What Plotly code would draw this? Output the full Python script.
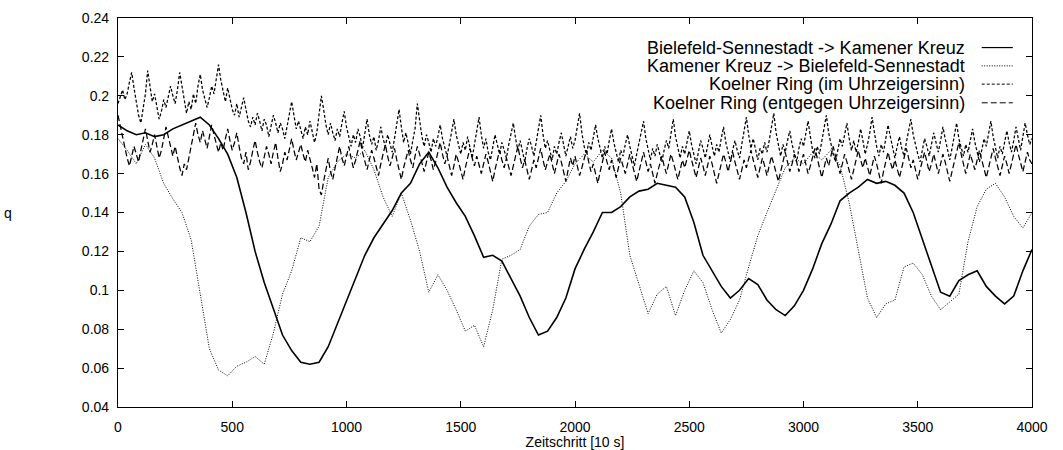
import plotly.graph_objects as go

# ---------------- data ----------------
steps_coarse = list(range(0, 4001, 40))   # x for the two directional series
steps_fine = list(range(0, 4001, 10))     # x for the two ring series

bielefeld_kamener = [
    0.185, 0.182, 0.180, 0.181, 0.179, 0.180, 0.183, 0.185, 0.187, 0.189,
    0.185, 0.178, 0.170, 0.158, 0.140, 0.120, 0.104, 0.091, 0.077, 0.069,
    0.063, 0.062, 0.063, 0.071, 0.083, 0.095, 0.106, 0.118, 0.127, 0.134,
    0.141, 0.150, 0.155, 0.165, 0.171, 0.163, 0.153, 0.145, 0.138, 0.128,
    0.117, 0.118, 0.115, 0.106, 0.097, 0.086, 0.077, 0.079, 0.086, 0.096,
    0.111, 0.121, 0.130, 0.140, 0.140, 0.143, 0.148, 0.151, 0.152, 0.155,
    0.154, 0.153, 0.148, 0.135, 0.118, 0.110, 0.102, 0.096, 0.100, 0.106,
    0.103, 0.095, 0.090, 0.087, 0.092, 0.100, 0.111, 0.124, 0.134, 0.146,
    0.150, 0.153, 0.157, 0.155, 0.156, 0.154, 0.150, 0.140, 0.126, 0.112,
    0.099, 0.097, 0.105, 0.108, 0.110, 0.102, 0.097, 0.093, 0.097, 0.110,
    0.121,
]

kamener_bielefeld = [
    0.178, 0.172, 0.165, 0.175, 0.168, 0.155, 0.147, 0.140, 0.126, 0.097,
    0.070, 0.059, 0.056, 0.061, 0.063, 0.066, 0.062, 0.078, 0.098, 0.110,
    0.127, 0.125, 0.133, 0.158, 0.166, 0.170, 0.168, 0.172, 0.162, 0.148,
    0.138, 0.150, 0.136, 0.120, 0.099, 0.108, 0.100, 0.090, 0.079, 0.082,
    0.071, 0.090, 0.116, 0.118, 0.121, 0.133, 0.139, 0.140, 0.150, 0.156,
    0.165, 0.170, 0.166, 0.172, 0.168, 0.150, 0.118, 0.103, 0.088, 0.098,
    0.102, 0.087, 0.100, 0.110, 0.104, 0.090, 0.078, 0.085, 0.095, 0.112,
    0.128, 0.140, 0.152, 0.163, 0.168, 0.165, 0.171, 0.167, 0.172, 0.164,
    0.145, 0.120, 0.096, 0.086, 0.093, 0.095, 0.112, 0.114, 0.108, 0.097,
    0.090, 0.094, 0.098, 0.125, 0.143, 0.152, 0.155, 0.148, 0.138, 0.132,
    0.140,
]

koeln_uhrzeiger = [
    0.196, 0.199, 0.203, 0.198, 0.201, 0.207, 0.212, 0.204, 0.196, 0.190,
    0.186, 0.193, 0.201, 0.213, 0.205, 0.197, 0.201, 0.194, 0.188, 0.192,
    0.198, 0.194, 0.199, 0.205, 0.200, 0.196, 0.203, 0.212, 0.205, 0.197,
    0.191, 0.197, 0.193, 0.201, 0.196, 0.205, 0.211, 0.203, 0.198, 0.194,
    0.199, 0.205, 0.201, 0.209, 0.216, 0.208, 0.203, 0.197, 0.204, 0.199,
    0.193, 0.190, 0.196, 0.189, 0.194, 0.199, 0.193, 0.187, 0.184, 0.189,
    0.185, 0.191, 0.187, 0.182, 0.188, 0.185, 0.179, 0.184, 0.190, 0.186,
    0.181, 0.186, 0.183, 0.178, 0.184, 0.189, 0.197, 0.190, 0.183, 0.187,
    0.182, 0.178, 0.184, 0.180, 0.187, 0.182, 0.176, 0.181, 0.191, 0.200,
    0.193, 0.185, 0.180, 0.186, 0.181, 0.177, 0.183, 0.179, 0.186, 0.192,
    0.184, 0.178, 0.174, 0.180, 0.176, 0.183, 0.179, 0.173, 0.181, 0.188,
    0.180, 0.175, 0.179, 0.172, 0.177, 0.184, 0.178, 0.174, 0.180, 0.176,
    0.171, 0.178, 0.186, 0.193, 0.184, 0.176, 0.181, 0.175, 0.170, 0.177,
    0.183, 0.196, 0.186, 0.179, 0.174, 0.180, 0.176, 0.171, 0.178, 0.174,
    0.179, 0.185, 0.178, 0.173, 0.169, 0.175, 0.181, 0.188, 0.180, 0.174,
    0.170, 0.176, 0.172, 0.179, 0.174, 0.168, 0.175, 0.182, 0.189, 0.180,
    0.173, 0.178, 0.171, 0.167, 0.174, 0.180, 0.175, 0.170, 0.176, 0.172,
    0.168, 0.175, 0.181, 0.186, 0.178, 0.172, 0.177, 0.171, 0.166, 0.173,
    0.178, 0.174, 0.169, 0.176, 0.183, 0.190, 0.180, 0.173, 0.177, 0.172,
    0.167, 0.174, 0.170, 0.176, 0.181, 0.175, 0.169, 0.174, 0.179, 0.173,
    0.177, 0.184, 0.191, 0.181, 0.174, 0.170, 0.176, 0.172, 0.178, 0.185,
    0.178, 0.172, 0.168, 0.174, 0.170, 0.177, 0.183, 0.176, 0.171, 0.166,
    0.172, 0.169, 0.175, 0.180, 0.174, 0.168, 0.164, 0.170, 0.176, 0.182,
    0.187, 0.178, 0.172, 0.167, 0.173, 0.169, 0.175, 0.171, 0.166, 0.172,
    0.177, 0.173, 0.180, 0.188, 0.179, 0.173, 0.168, 0.174, 0.170, 0.176,
    0.182, 0.175, 0.170, 0.165, 0.171, 0.177, 0.173, 0.168, 0.174, 0.180,
    0.174, 0.169, 0.175, 0.171, 0.178, 0.184, 0.176, 0.170, 0.166, 0.172,
    0.177, 0.172, 0.168, 0.175, 0.182, 0.189, 0.180, 0.173, 0.178, 0.172,
    0.167, 0.173, 0.170, 0.176, 0.171, 0.177, 0.185, 0.191, 0.181, 0.174,
    0.169, 0.175, 0.171, 0.177, 0.182, 0.175, 0.170, 0.166, 0.173, 0.178,
    0.174, 0.180, 0.187, 0.179, 0.172, 0.168, 0.174, 0.170, 0.176, 0.183,
    0.190, 0.181, 0.175, 0.170, 0.166, 0.172, 0.178, 0.174, 0.180, 0.186,
    0.178, 0.172, 0.177, 0.171, 0.176, 0.183, 0.177, 0.170, 0.175, 0.181,
    0.189, 0.180, 0.174, 0.169, 0.175, 0.171, 0.178, 0.185, 0.179, 0.173,
    0.168, 0.174, 0.179, 0.173, 0.169, 0.176, 0.182, 0.188, 0.180, 0.174,
    0.170, 0.166, 0.172, 0.178, 0.174, 0.169, 0.175, 0.181, 0.176, 0.171,
    0.177, 0.184, 0.178, 0.172, 0.167, 0.173, 0.179, 0.186, 0.178, 0.173,
    0.169, 0.175, 0.171, 0.177, 0.183, 0.176, 0.171, 0.166, 0.172, 0.178,
    0.174, 0.180, 0.187, 0.179, 0.173, 0.168, 0.174, 0.170, 0.176, 0.182,
    0.176, 0.171, 0.177, 0.184, 0.178, 0.172, 0.179, 0.186, 0.180, 0.175,
    0.178,
]

koeln_entgegen = [
    0.190, 0.184, 0.178, 0.173, 0.168, 0.164, 0.169, 0.174, 0.170, 0.166,
    0.172, 0.178, 0.183, 0.177, 0.171, 0.175, 0.180, 0.174, 0.168, 0.172,
    0.178, 0.184, 0.179, 0.173, 0.169, 0.174, 0.168, 0.163, 0.159, 0.165,
    0.162, 0.168, 0.175, 0.181, 0.186, 0.180, 0.176, 0.182, 0.178, 0.173,
    0.179, 0.185, 0.180, 0.175, 0.171, 0.176, 0.172, 0.178, 0.183, 0.177,
    0.172, 0.176, 0.181, 0.174, 0.168, 0.165, 0.171, 0.162, 0.166, 0.172,
    0.177, 0.171, 0.166, 0.163, 0.169, 0.174, 0.170, 0.165, 0.171, 0.176,
    0.168, 0.161, 0.165, 0.171, 0.167, 0.173, 0.178, 0.172, 0.167, 0.171,
    0.175, 0.170, 0.166, 0.172, 0.168, 0.163, 0.158, 0.165, 0.152, 0.149,
    0.156, 0.163, 0.168, 0.161, 0.157, 0.163, 0.169, 0.174, 0.168, 0.164,
    0.169, 0.174, 0.168, 0.163, 0.167, 0.172, 0.177, 0.171, 0.166, 0.162,
    0.167, 0.172, 0.168, 0.163, 0.159, 0.165, 0.170, 0.175, 0.169, 0.164,
    0.168, 0.173, 0.167, 0.162, 0.157, 0.163, 0.168, 0.172, 0.167, 0.163,
    0.169, 0.174, 0.170, 0.165, 0.161, 0.166, 0.171, 0.167, 0.162, 0.166,
    0.171, 0.176, 0.170, 0.165, 0.169, 0.164, 0.159, 0.164, 0.170, 0.166,
    0.161, 0.157, 0.163, 0.168, 0.173, 0.168, 0.164, 0.169, 0.165, 0.160,
    0.165, 0.170, 0.166, 0.161, 0.156, 0.162, 0.167, 0.172, 0.167, 0.163,
    0.168, 0.164, 0.159, 0.164, 0.169, 0.174, 0.168, 0.163, 0.167, 0.162,
    0.157, 0.162, 0.167, 0.163, 0.168, 0.173, 0.167, 0.162, 0.166, 0.170,
    0.165, 0.160, 0.165, 0.170, 0.166, 0.161, 0.156, 0.162, 0.168, 0.164,
    0.169, 0.164, 0.159, 0.163, 0.168, 0.172, 0.166, 0.161, 0.165, 0.160,
    0.155, 0.161, 0.166, 0.171, 0.166, 0.162, 0.167, 0.163, 0.158, 0.163,
    0.168, 0.164, 0.160, 0.165, 0.170, 0.165, 0.160, 0.156, 0.161, 0.166,
    0.171, 0.166, 0.161, 0.165, 0.160, 0.155, 0.160, 0.165, 0.169, 0.164,
    0.160, 0.165, 0.170, 0.166, 0.161, 0.157, 0.162, 0.167, 0.163, 0.168,
    0.172, 0.167, 0.162, 0.158, 0.163, 0.168, 0.164, 0.159, 0.164, 0.169,
    0.165, 0.160, 0.155, 0.160, 0.165, 0.170, 0.166, 0.161, 0.166, 0.171,
    0.166, 0.162, 0.157, 0.162, 0.167, 0.163, 0.168, 0.172, 0.167, 0.162,
    0.158, 0.163, 0.168, 0.164, 0.159, 0.164, 0.169, 0.165, 0.160, 0.156,
    0.161, 0.166, 0.171, 0.166, 0.161, 0.165, 0.170, 0.166, 0.161, 0.166,
    0.170, 0.165, 0.160, 0.164, 0.169, 0.173, 0.168, 0.163, 0.158, 0.163,
    0.168, 0.164, 0.169, 0.174, 0.169, 0.164, 0.160, 0.165, 0.170, 0.166,
    0.161, 0.157, 0.162, 0.167, 0.172, 0.167, 0.163, 0.168, 0.164, 0.159,
    0.164, 0.169, 0.165, 0.160, 0.155, 0.161, 0.166, 0.171, 0.166, 0.162,
    0.167, 0.163, 0.158, 0.163, 0.168, 0.173, 0.168, 0.163, 0.167, 0.162,
    0.157, 0.162, 0.167, 0.171, 0.166, 0.161, 0.165, 0.170, 0.165, 0.160,
    0.165, 0.170, 0.166, 0.161, 0.156, 0.161, 0.166, 0.171, 0.176, 0.170,
    0.165, 0.160, 0.165, 0.170, 0.166, 0.162, 0.167, 0.172, 0.167, 0.163,
    0.158, 0.163, 0.168, 0.173, 0.168, 0.164, 0.159, 0.164, 0.169, 0.165,
    0.160, 0.165, 0.170, 0.175, 0.170, 0.165, 0.161, 0.166, 0.171, 0.167,
    0.165,
]

series_names = [
    "Bielefeld-Sennestadt -> Kamener Kreuz",
    "Kamener Kreuz -> Bielefeld-Sennestadt",
    "Koelner Ring (im Uhrzeigersinn)",
    "Koelner Ring (entgegen Uhrzeigersinn)",
]

x_tick_values = [0, 500, 1000, 1500, 2000, 2500, 3000, 3500, 4000]
y_tick_values = [0.04, 0.06, 0.08, 0.10, 0.12, 0.14, 0.16, 0.18, 0.20, 0.22, 0.24]
y_tick_labels = ["0.04", "0.06", "0.08", "0.1", "0.12", "0.14", "0.16",
                 "0.18", "0.2", "0.22", "0.24"]

# ---------------- figure ----------------
FONT = "Liberation Sans, Arial, Helvetica, sans-serif"
series = [
    (steps_coarse, bielefeld_kamener, dict(color="black", width=1.6, dash="solid")),
    (steps_coarse, kamener_bielefeld, dict(color="black", width=1, dash="1px,1.5px")),
    (steps_fine, koeln_uhrzeiger, dict(color="black", width=1.25, dash="3px,2px")),
    (steps_fine, koeln_entgegen, dict(color="black", width=1.25, dash="6px,3px")),
]

fig = go.Figure()
for (xs, ys, ln), name in zip(series, series_names):
    fig.add_trace(go.Scatter(x=xs, y=ys, mode="lines", name=name, line=ln,
                             showlegend=False, hoverinfo="skip"))

# gnuplot-style key: right-aligned text with line sample to its right
key_rows_y = [0.924, 0.877, 0.830, 0.782]
for (xs, ys, ln), name, ky in zip(series, series_names, key_rows_y):
    fig.add_annotation(xref="paper", yref="paper", x=0.929, y=ky, text=name,
                       showarrow=False, xanchor="right", yanchor="middle",
                       font=dict(family=FONT, size=18, color="black"))
    fig.add_shape(type="line", xref="paper", yref="paper",
                  x0=0.945, x1=0.979, y0=ky, y1=ky,
                  line=dict(color="black", width=1 if ln["dash"] != "solid" else 1.2,
                            dash=ln["dash"]))

fig.add_annotation(xref="paper", yref="paper", x=-0.127, y=0.5, text="q",
                   showarrow=False, xanchor="left", yanchor="middle",
                   font=dict(family=FONT, size=14, color="black"))

axis_common = dict(showline=True, linecolor="black", linewidth=1.2, mirror="allticks",
                   ticks="inside", ticklen=6, tickcolor="black", tickwidth=1,
                   showgrid=False, zeroline=False, automargin=False,
                   tickfont=dict(family=FONT, size=14, color="black"))

fig.update_xaxes(range=[0, 4000], tickvals=x_tick_values, ticklabelstandoff=7,
                 title=dict(text="Zeitschritt [10 s]", standoff=0,
                            font=dict(family=FONT, size=14, color="black")),
                 **axis_common)
fig.update_yaxes(range=[0.04, 0.24], tickvals=y_tick_values, ticktext=y_tick_labels,
                 ticklabelstandoff=5, **axis_common)

fig.update_layout(width=1063, height=450, plot_bgcolor="white", paper_bgcolor="white",
                  margin=dict(l=118, r=31, t=18, b=43),
                  font=dict(family=FONT, size=14, color="black"))

fig.write_html("out.html")
